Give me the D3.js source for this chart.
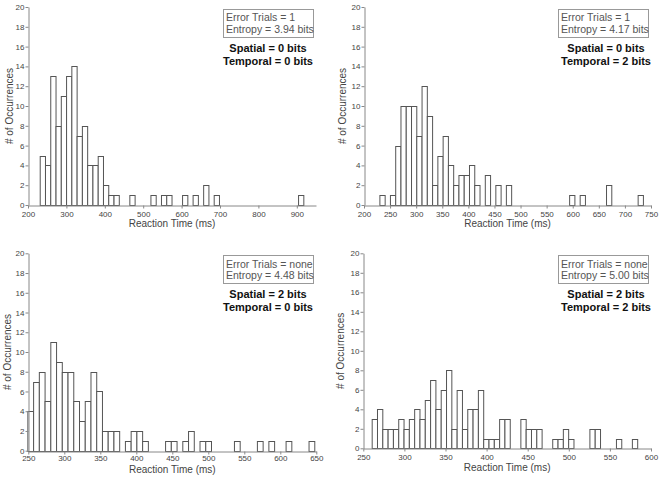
<!DOCTYPE html>
<html><head><meta charset="utf-8">
<script src="https://cdn.jsdelivr.net/npm/d3@7"></script>
<style>
body{margin:0;background:#fff;}
svg{display:block;font-family:"Liberation Sans",Arial,sans-serif;}
</style></head>
<body><svg id="c" width="661" height="478"></svg>
<script>
// ---- data ----
const yTicks = [0,2,4,6,8,10,12,14,16,18,20];

const countsA = [5,4,13,8,11,13,14,7,8,4,4,5,2,1,1,0,0,1,0,0,0,1,0,1,1,0,0,1,0,1,0,2,0,1,0,0,0,0,0,0,0,0,0,0,0,0,0,0,0,1];
const binA = {start:230.5, width:13.73};
const xTicksA = [200,300,400,500,600,700,800,900];
const xDomainA = [200,950];

const countsB = [1,0,1,6,10,10,10,7,12,9,2,5,7,4,2,3,3,4,2,0,3,0,2,0,2,0,0,0,0,0,0,0,0,0,0,0,1,0,1,0,0,0,0,2,0,0,0,0,0,1];
const binB = {start:229.5, width:10.1};
const xTicksB = [200,250,300,350,400,450,500,550,600,650,700,750];
const xDomainB = [200,750];

const countsC = [4,7,8,5,11,9,8,8,5,3,5,8,6,2,2,2,0,1,2,2,1,0,0,0,1,1,0,1,2,0,1,1,0,0,0,0,1,0,0,0,1,0,1,0,0,1,0,0,0,1];
const binC = {start:248.7, width:7.97};
const xTicksC = [250,300,350,400,450,500,550,600,650];
const xDomainC = [250,650];

const countsD = [3,4,2,2,2,3,2,3,4,3,5,7,4,6,8,2,6,2,4,4,6,1,1,1,3,3,0,0,3,2,2,2,0,0,1,1,2,1,0,0,0,2,2,0,0,0,1,0,0,1];
const binD = {start:260.2, width:6.46};
const xTicksD = [250,300,350,400,450,500,550,600];
const xDomainD = [250,600];

const boxLines = [["Error Trials = 1","Entropy = 3.94 bits"],["Error Trials = 1","Entropy = 4.17 bits"],
                  ["Error Trials = none","Entropy = 4.48 bits"],["Error Trials = none","Entropy = 5.00 bits"]];
const boldLines = [["Spatial = 0 bits","Temporal = 0 bits"],["Spatial = 0 bits","Temporal = 2 bits"],
                   ["Spatial = 2 bits","Temporal = 0 bits"],["Spatial = 2 bits","Temporal = 2 bits"]];
const xTitle = "Reaction Time (ms)";
const yTitle = "# of Occurrences";

// ---- layout ----
const panels = [
  {counts:countsA, bin:binA, ticks:xTicksA, dom:xDomainA, x0:28, x1:316, yTop:7, yBot:205, lblDy:5.5, ttlDy:21.5, yt:12.5,
   box:[223,9], bt:[20.5,33], tx:268, ty:[52,65]},
  {counts:countsB, bin:binB, ticks:xTicksB, dom:xDomainB, x0:364, x1:651, yTop:7, yBot:205, lblDy:5.5, ttlDy:21.5, yt:345.5,
   box:[558,9], bt:[20.5,33], tx:606, ty:[52,65]},
  {counts:countsC, bin:binC, ticks:xTicksC, dom:xDomainC, x0:28.3, x1:316.3, yTop:253.3, yBot:450.7, lblDy:4.2, ttlDy:22.3, yt:10.5,
   box:[223,255], bt:[267.5,279], tx:268, ty:[297.5,311]},
  {counts:countsD, bin:binD, ticks:xTicksD, dom:xDomainD, x0:363.3, x1:651, yTop:253.3, yBot:448.3, lblDy:5.5, ttlDy:22.5, yt:343.5,
   box:[558,255], bt:[267.5,279], tx:606, ty:[297.5,311]}
];

const svg = d3.select("#c");
const axisCol = "#888";
const textCol = "#444";

panels.forEach((p,i)=>{
  const x = d3.scaleLinear().domain(p.dom).range([p.x0,p.x1]);
  const y = d3.scaleLinear().domain([0,20]).range([p.yBot,p.yTop]);
  const g = svg.append("g");

  const bins = p.counts.map((c,k)=>({x0:p.bin.start+k*p.bin.width, x1:p.bin.start+(k+1)*p.bin.width, c:c}))
                       .filter(b=>b.c>0);
  g.selectAll("rect").data(bins).enter().append("rect")
    .attr("x",b=>x(b.x0)+0.5).attr("width",b=>x(b.x1)-x(b.x0))
    .attr("y",b=>Math.round(y(b.c))+0.5).attr("height",b=>Math.round(y(0))-Math.round(y(b.c)))
    .attr("fill","#fff").attr("stroke","#555").attr("stroke-width",1);

  const xa = g.append("g").attr("transform",`translate(0,${Math.round(p.yBot)+0.5})`)
    .call(d3.axisBottom(x).tickValues(p.ticks).tickSize(3).tickSizeOuter(0));
  const ya = g.append("g").attr("transform",`translate(${Math.round(p.x0)+0.5},0)`)
    .call(d3.axisLeft(y).tickValues(yTicks).tickSize(3).tickSizeOuter(0));
  [xa,ya].forEach(a=>{
    a.selectAll("path,line").attr("stroke",axisCol);
    a.selectAll("text").attr("fill",textCol).style("font-size","8px").style("font-family","Liberation Sans, Arial, sans-serif");
  });
  ya.selectAll("text").attr("x",-4);
  xa.selectAll("text").attr("y",p.lblDy);

  g.append("text").attr("x",(p.x0+p.x1)/2).attr("y",p.yBot+p.ttlDy).attr("text-anchor","middle")
    .attr("fill",textCol).style("font-size","10px").text(xTitle);
  g.append("text").attr("transform",`translate(${p.yt},${(p.yTop+p.yBot)/2}) rotate(-90)`)
    .attr("text-anchor","middle").attr("fill",textCol).style("font-size","10px").text(yTitle);

  g.append("rect").attr("x",p.box[0]+0.5).attr("y",p.box[1]+0.5).attr("width",90).attr("height",28)
    .attr("fill","#fff").attr("stroke","#999");
  boxLines[i].forEach((t,j)=>{
    g.append("text").attr("x",p.box[0]+3).attr("y",p.bt[j]).attr("fill","#555")
      .style("font-size","10.5px").text(t);
  });
  boldLines[i].forEach((t,j)=>{
    g.append("text").attr("x",p.tx).attr("y",p.ty[j]).attr("text-anchor","middle").attr("fill","#111")
      .style("font-size","11px").style("font-weight","bold").text(t);
  });
});
</script></body></html>
